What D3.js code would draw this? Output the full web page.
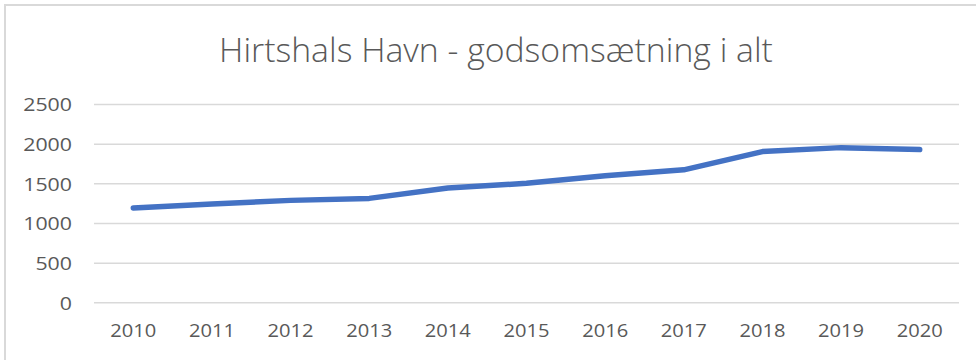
<!DOCTYPE html>
<html>
<head>
<meta charset="utf-8">
<script src="https://cdn.jsdelivr.net/npm/d3@7"></script>
<style>
  html, body { margin: 0; padding: 0; background: #fff; }
  svg { display: block; }
</style>
</head>
<body>
<svg id="chart" width="976" height="360"></svg>
<script>
const title = "Hirtshals Havn - godsomsætning i alt";
const years = ["2010","2011","2012","2013","2014","2015","2016","2017","2018","2019","2020"];
const values = [1190, 1240, 1285, 1310, 1440, 1500, 1595, 1670, 1900, 1950, 1925];
const yTicks = [0, 500, 1000, 1500, 2000, 2500];

(function () {
const svg = d3.select("#chart");
const W = 976, H = 360;
const mLeft = 94, mRight = 959, mTop = 104, mBottom = 302.3;
const font = "'Open Sans', 'Liberation Sans', sans-serif";
const textColor = "#595959";

// chart border (top and left visible)
svg.append("path")
  .attr("d", `M5,${H} L5,5 L${W},5`)
  .attr("fill", "none")
  .attr("stroke", "#d9d9d9")
  .attr("stroke-width", 2);

const x = d3.scaleBand().domain(years).range([mLeft, mRight]);
const y = d3.scaleLinear().domain([0, 2500]).range([mBottom, mTop]);

// gridlines + y labels
const yAxis = d3.axisLeft(y).tickValues(yTicks).tickSize(-(mRight - mLeft)).tickPadding(22).tickFormat(d3.format("d"));
const gy = svg.append("g").attr("transform", `translate(${mLeft},0)`).call(yAxis);
gy.select(".domain").remove();
gy.selectAll(".tick line").attr("stroke", "#d9d9d9").attr("stroke-width", 1.5);
gy.selectAll(".tick text").attr("fill", textColor).attr("font-family", font).attr("font-size", 19).attr("dy", "0.36em")
  .attr("textLength", d => String(d).length * 12.2).attr("lengthAdjust", "spacingAndGlyphs");

// x axis labels
const xAxis = d3.axisBottom(x).tickSize(0).tickPadding(21);
const gx = svg.append("g").attr("transform", `translate(0,${mBottom})`).call(xAxis);
gx.select(".domain").remove();
gx.selectAll(".tick text").attr("fill", textColor).attr("font-family", font).attr("font-size", 19)
  .attr("textLength", 46).attr("lengthAdjust", "spacingAndGlyphs");

// line
const line = d3.line()
  .x((d, i) => x(years[i]) + x.bandwidth() / 2)
  .y(d => y(d));
svg.append("path")
  .datum(values)
  .attr("d", line)
  .attr("fill", "none")
  .attr("stroke", "#4472C4")
  .attr("stroke-width", 5.5)
  .attr("stroke-linecap", "round")
  .attr("stroke-linejoin", "round");

// title
const t = svg.append("text")
  .attr("x", 496)
  .attr("y", 62)
  .attr("text-anchor", "middle")
  .attr("fill", textColor)
  .attr("font-family", font)
  .attr("font-weight", 300)
  .attr("font-size", 28)
  .text(title);
const w = t.node().getComputedTextLength();
t.attr("font-size", 28 * 554 / w);
})();
</script>
</body>
</html>
